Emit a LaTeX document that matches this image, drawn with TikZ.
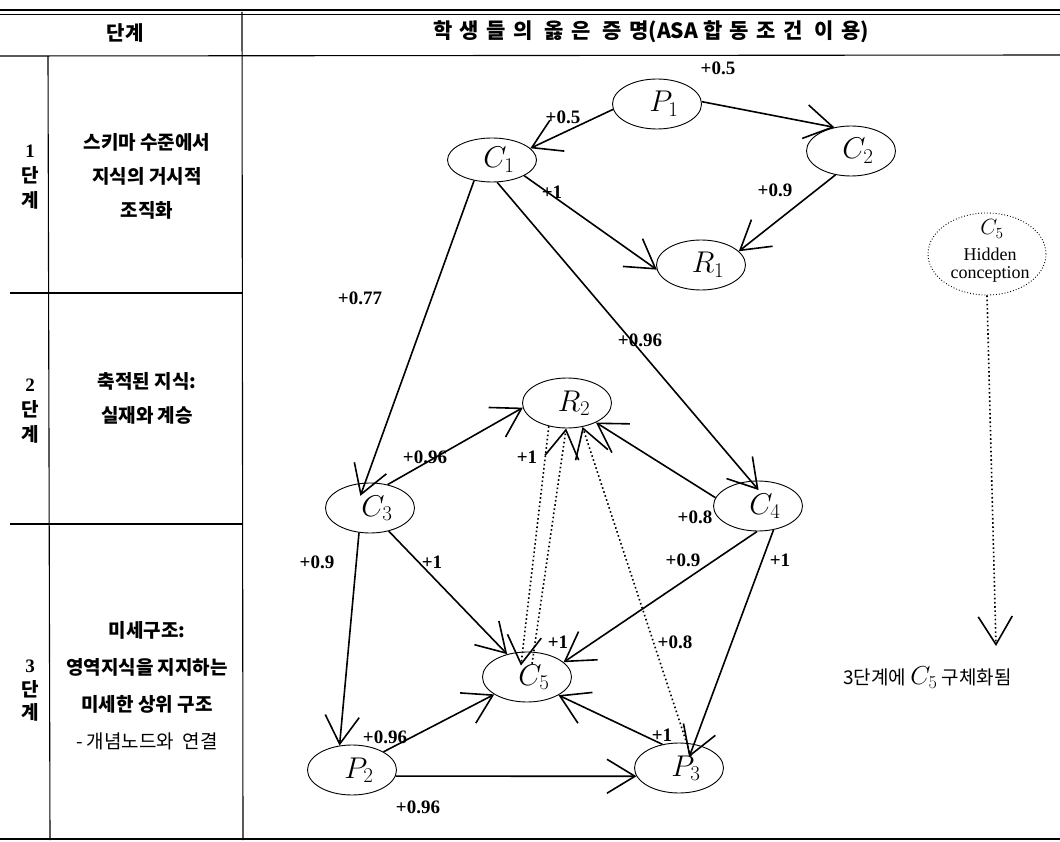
\RequirePackage{fix-cm}
\documentclass[tikz,border=0pt]{standalone}
\usepackage{fontspec}
\setmainfont{Liberation Serif}
\newfontfamily\kr{Noto Sans CJK KR}
\newfontfamily\krsp[LetterSpace=35]{Noto Sans CJK KR}
\usetikzlibrary{shapes.geometric,arrows.meta}
\newcommand\nl[1]{\hspace*{14pt}$#1$}
\begin{document}
\begin{tikzpicture}[x=1pt,y=-1pt,
  nd/.style={ellipse,draw,line width=0.9pt,minimum width=89pt,minimum height=50pt,inner sep=0pt,font=\fontsize{30}{30}\selectfont},
  arr/.style={line width=1.6pt,-{Straight Barb[length=28pt,width=34pt]}},
  dotarr/.style={line width=1.6pt,dash pattern=on 1.6pt off 2.6pt,-{Straight Barb[length=28pt,width=34pt]}},
  lab/.style={font=\bfseries\fontsize{19}{19}\selectfont,inner sep=0pt},
  rule/.style={line width=1.1pt},
  hd/.style={font=\kr\bfseries\fontsize{20}{24}\selectfont,inner sep=0pt},
  cell/.style={font=\kr\bfseries\fontsize{19}{34}\selectfont,align=center,inner sep=0pt},
  num/.style={font=\kr\bfseries\fontsize{19}{25}\selectfont,align=center,inner sep=0pt}
]
\useasboundingbox (0,0) rectangle (1060,842);
% table rules
\draw[rule] (0,10) -- (1060,10);
\draw[rule] (0,14.5) -- (1060,14.5);
\draw[rule] (0,56) -- (1060,55);
\draw[rule] (242,12) -- (243,840);
\draw[rule] (48,56) -- (50,840);
\draw[rule] (10,293) -- (243,293);
\draw[rule] (10,524) -- (243,524);
\draw[rule] (0,839) -- (1060,839);
% header
\node[hd] (h1) at (125,33) {단계};
\node[hd,font=\bfseries\fontsize{21}{24}\selectfont] (h2) at (651,32) {{\krsp 학생들의 옳은 증명}{\kr (ASA }{\krsp 합동조건 이용}{\kr )}};
% left column
\node[num] (n1) at (30,177) {{\rmfamily\bfseries 1}\\단\\계};
\node[cell] (t1) at (147,176) {스키마 수준에서\\지식의 거시적\\조직화};
\node[num] (n2) at (30,411) {{\rmfamily\bfseries 2}\\단\\계};
\node[cell] (t2) at (147,398) {축적된 지식:\\실재와 계승};
\node[num,font=\kr\bfseries\fontsize{19}{23.5}\selectfont] (n3) at (30,691) {{\rmfamily\bfseries 3}\\단\\계};
\node[cell,font=\kr\bfseries\fontsize{19}{37}\selectfont] (t3) at (147,686) {미세구조:\\영역지식을 지지하는\\미세한 상위 구조\\{\mdseries - 개념노드와\ \ 연결}};
% nodes
\node[nd] (P1) at (657,104) {\nl{P_1}};
\node[nd,minimum height=44pt] (C1) at (492,160) {\nl{C_1}};
\node[nd] (C2) at (851,151) {\nl{C_2}};
\node[nd] (R1) at (701,265) {\nl{R_1}};
\node[nd] (R2) at (567,403) {\nl{R_2}};
\node[nd] (C3) at (370,508) {\nl{C_3}};
\node[nd] (C4) at (758,506) {\nl{C_4}};
\node[nd] (C5) at (527,677) {\nl{C_5}};
\node[nd] (P2) at (352,770) {\nl{P_2}};
\node[nd] (P3) at (679,768) {\nl{P_3}};
% hidden conception
\node[ellipse,draw,line width=0.9pt,dotted,minimum width=118pt,minimum height=82pt] (H) at (987,254) {};
\node[inner sep=0pt,font=\fontsize{22}{22}\selectfont] (Hc) at (992,229) {$C_5$};
\node[inner sep=0pt,font=\fontsize{18}{18}\selectfont] (Hh) at (990,254) {Hidden};
\node[inner sep=0pt,font=\fontsize{18}{18}\selectfont] (Hk) at (990,274) {conception};
\node[anchor=west,inner sep=0pt,font=\kr\fontsize{19}{19}\selectfont] (T) at (843,678) {3단계에 \fontsize{26}{26}\selectfont$C_5$\fontsize{19}{19}\selectfont\ 구체화됨};
\coordinate (Tt) at (996,646);
% solid edges
\draw[arr] (P1.187) -- (C1.17);
\draw[arr] (P1.3) -- (C2.125);
\draw[arr] (C1.334) -- (R1.186);
\draw[arr] (C2.237) -- (R1.20);
\draw[arr,shorten >=-14pt] (C1.229) -- (C3.101);
\draw[arr,shorten >=-12pt] (C1.283) -- (C4.106);
\draw[arr] (C3.53) -- (R2.186);
\draw[arr] (C4.169) -- (R2.326);
\draw[arr] (C3.246) -- (P2.117);
\draw[arr] (C3.309) -- (C5.131);
\draw[arr] (C4.268) -- (C5.22);
\draw[arr,shorten >=-14pt] (C4.303) -- (P3.58);
\draw[arr] (P2.30) -- (C5.208);
\draw[arr] (P3.125) -- (C5.330);
\draw[arr] (P2.352) -- (P3.191);
% dotted edges
\draw[dotarr,shorten >=-14pt] (R2.232) -- (C5.100);
\draw[dotarr,shorten <=-12pt] (C5.75) -- (R2.268);
\draw[dotarr,shorten <=-18pt] (P3.73) -- (R2.303);
\draw[dotarr] (H.south) -- (Tt);
% labels
\node[lab] (l1) at (718,68) {+0.5};
\node[lab] (l2) at (563,117) {+0.5};
\node[lab] (l3) at (552,192) {+1};
\node[lab] (l4) at (775,190) {+0.9};
\node[lab] (l5) at (360,298) {+0.77};
\node[lab] (l6) at (640,340) {+0.96};
\node[lab] (l7) at (425,457) {+0.96};
\node[lab] (l8) at (527,457) {+1};
\node[lab] (l9) at (695,517) {+0.8};
\node[lab] (l10) at (317,562) {+0.9};
\node[lab] (l11) at (432,562) {+1};
\node[lab] (l12) at (683,560) {+0.9};
\node[lab] (l13) at (780,560) {+1};
\node[lab] (l14) at (558,642) {+1};
\node[lab] (l15) at (675,642) {+0.8};
\node[lab] (l16) at (385,737) {+0.96};
\node[lab] (l17) at (662,735) {+1};
\node[lab] (l18) at (418,807) {+0.96};
\end{tikzpicture}
\end{document}
